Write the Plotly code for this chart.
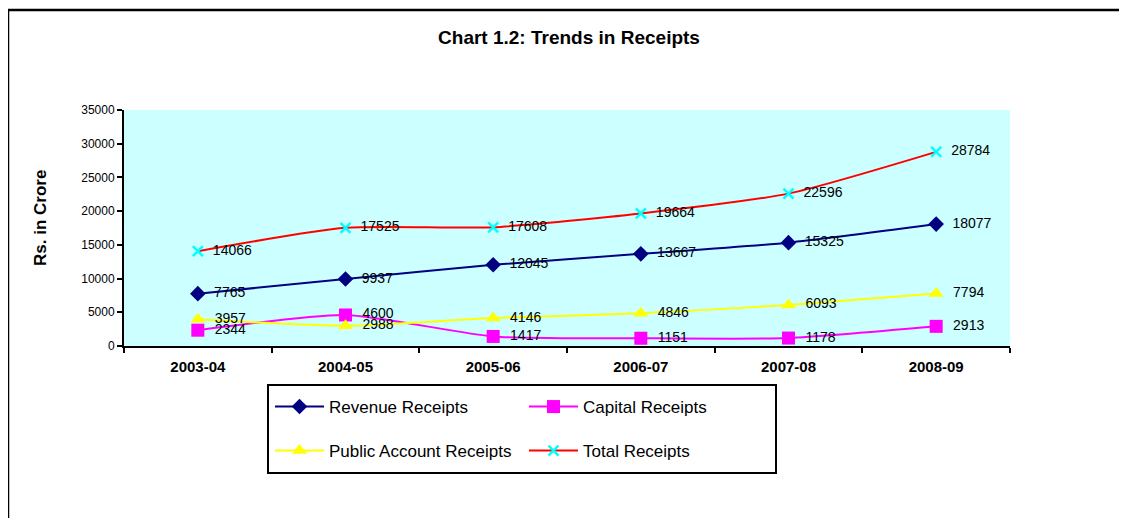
import plotly.graph_objects as go

# ---- data ----
years = ["2003-04", "2004-05", "2005-06", "2006-07", "2007-08", "2008-09"]
revenue_receipts = [7765, 9937, 12045, 13667, 15325, 18077]
capital_receipts = [2344, 4600, 1417, 1151, 1178, 2913]
public_account_receipts = [3957, 2988, 4146, 4846, 6093, 7794]
total_receipts = [14066, 17525, 17608, 19664, 22596, 28784]

OFF = 8  # page body margin: figure origin appears at (8, 8) in the screenshot
W, H = 1127, 518
PL, PR, PT, PB = 124 - OFF, 1010 - OFF, 110 - OFF, 346 - OFF  # plot area in figure pixels
FONT = "Liberation Sans, Arial, sans-serif"


def px_x(p):
    """screen x pixel -> paper coordinate"""
    return (p - OFF - PL) / (PR - PL)


def px_y(p):
    """screen y pixel -> paper coordinate"""
    return (PB - (p - OFF)) / (PB - PT)


series = [
    ("Revenue Receipts", revenue_receipts, "#000080", dict(symbol="diamond", size=12, color="#000080"), "legend"),
    ("Capital Receipts", capital_receipts, "#FF00FF", dict(symbol="square", size=13, color="#FF00FF"), "legend"),
    ("Public Account Receipts", public_account_receipts, "#FFFF00", dict(symbol="triangle-up", size=13, color="#FFFF00"), "legend2"),
    ("Total Receipts", total_receipts, "#FF0000", dict(symbol="x-thin", size=10, color="#00FFFF",
                                                        line=dict(color="#00FFFF", width=2.5)), "legend2"),
]

fig = go.Figure()
for name, vals, lc, mk, lg in series:
    fig.add_trace(go.Scatter(
        x=years, y=vals, name=name, mode="lines+markers+text",
        line=dict(color=lc, width=2, shape="spline", smoothing=0.6),
        marker=mk,
        text=[str(v) for v in vals], textposition="middle right",
        texttemplate="  %{text}",
        textfont=dict(family=FONT, size=14, color="#000000"),
        legend=lg, cliponaxis=False,
    ))

fig.update_layout(
    width=W, height=H,
    margin=dict(l=PL, r=W - PR, t=PT, b=H - PB, autoexpand=False),
    paper_bgcolor="#FFFFFF", plot_bgcolor="#CCFFFF",
    font=dict(family=FONT, color="#000000"),
    title=dict(text="Chart 1.2: Trends in Receipts", x=(569 - OFF) / W, xanchor="center",
               y=1 - (37 - OFF) / H, yanchor="middle", yref="container",
               font=dict(family=FONT, size=19, weight="bold", color="#000000")),
    xaxis=dict(type="category", range=[-0.5, 5.5], tickson="boundaries",
               ticks="outside", ticklen=5, tickwidth=1.5, tickcolor="#000000",
               showline=True, linecolor="#000000", linewidth=2, showgrid=False,
               zeroline=False, ticklabelstandoff=6,
               tickfont=dict(family=FONT, size=15, weight="bold", color="#000000")),
    yaxis=dict(range=[0, 35000], dtick=5000, tickformat="d", ticks="outside", ticklen=5, tickwidth=1.5,
               tickcolor="#000000", showline=True, linecolor="#000000", linewidth=2,
               showgrid=False, zeroline=False,
               tickfont=dict(family=FONT, size=12, color="#000000")),
    legend=dict(orientation="h", x=px_x(270), xanchor="left", y=px_y(407), yanchor="middle",
                entrywidth=190, entrywidthmode="pixels", itemwidth=49,
                bgcolor="rgba(0,0,0,0)", borderwidth=0,
                font=dict(family=FONT, size=17, color="#000000")),
    legend2=dict(orientation="h", x=px_x(270), xanchor="left", y=px_y(451), yanchor="middle",
                 entrywidth=190, entrywidthmode="pixels", itemwidth=49,
                 bgcolor="rgba(0,0,0,0)", borderwidth=0,
                 font=dict(family=FONT, size=17, color="#000000")),
    showlegend=True,
)

# y-axis title
fig.add_annotation(text="Rs. in Crore", xref="paper", yref="paper", x=px_x(40), y=px_y(218),
                   textangle=-90, showarrow=False, xanchor="center", yanchor="middle",
                   font=dict(family=FONT, size=17, weight="bold", color="#000000"))

# legend box and outer frame
fig.add_shape(type="rect", xref="paper", yref="paper",
              x0=px_x(268), x1=px_x(776), y0=px_y(385), y1=px_y(473),
              line=dict(color="#000000", width=2), fillcolor="rgba(0,0,0,0)")
fig.add_shape(type="rect", xref="paper", yref="paper",
              x0=px_x(8), x1=px_x(1160), y0=px_y(10), y1=px_y(560),
              line=dict(color="#000000", width=2.5), fillcolor="rgba(0,0,0,0)")

fig.write_html("out.html")
